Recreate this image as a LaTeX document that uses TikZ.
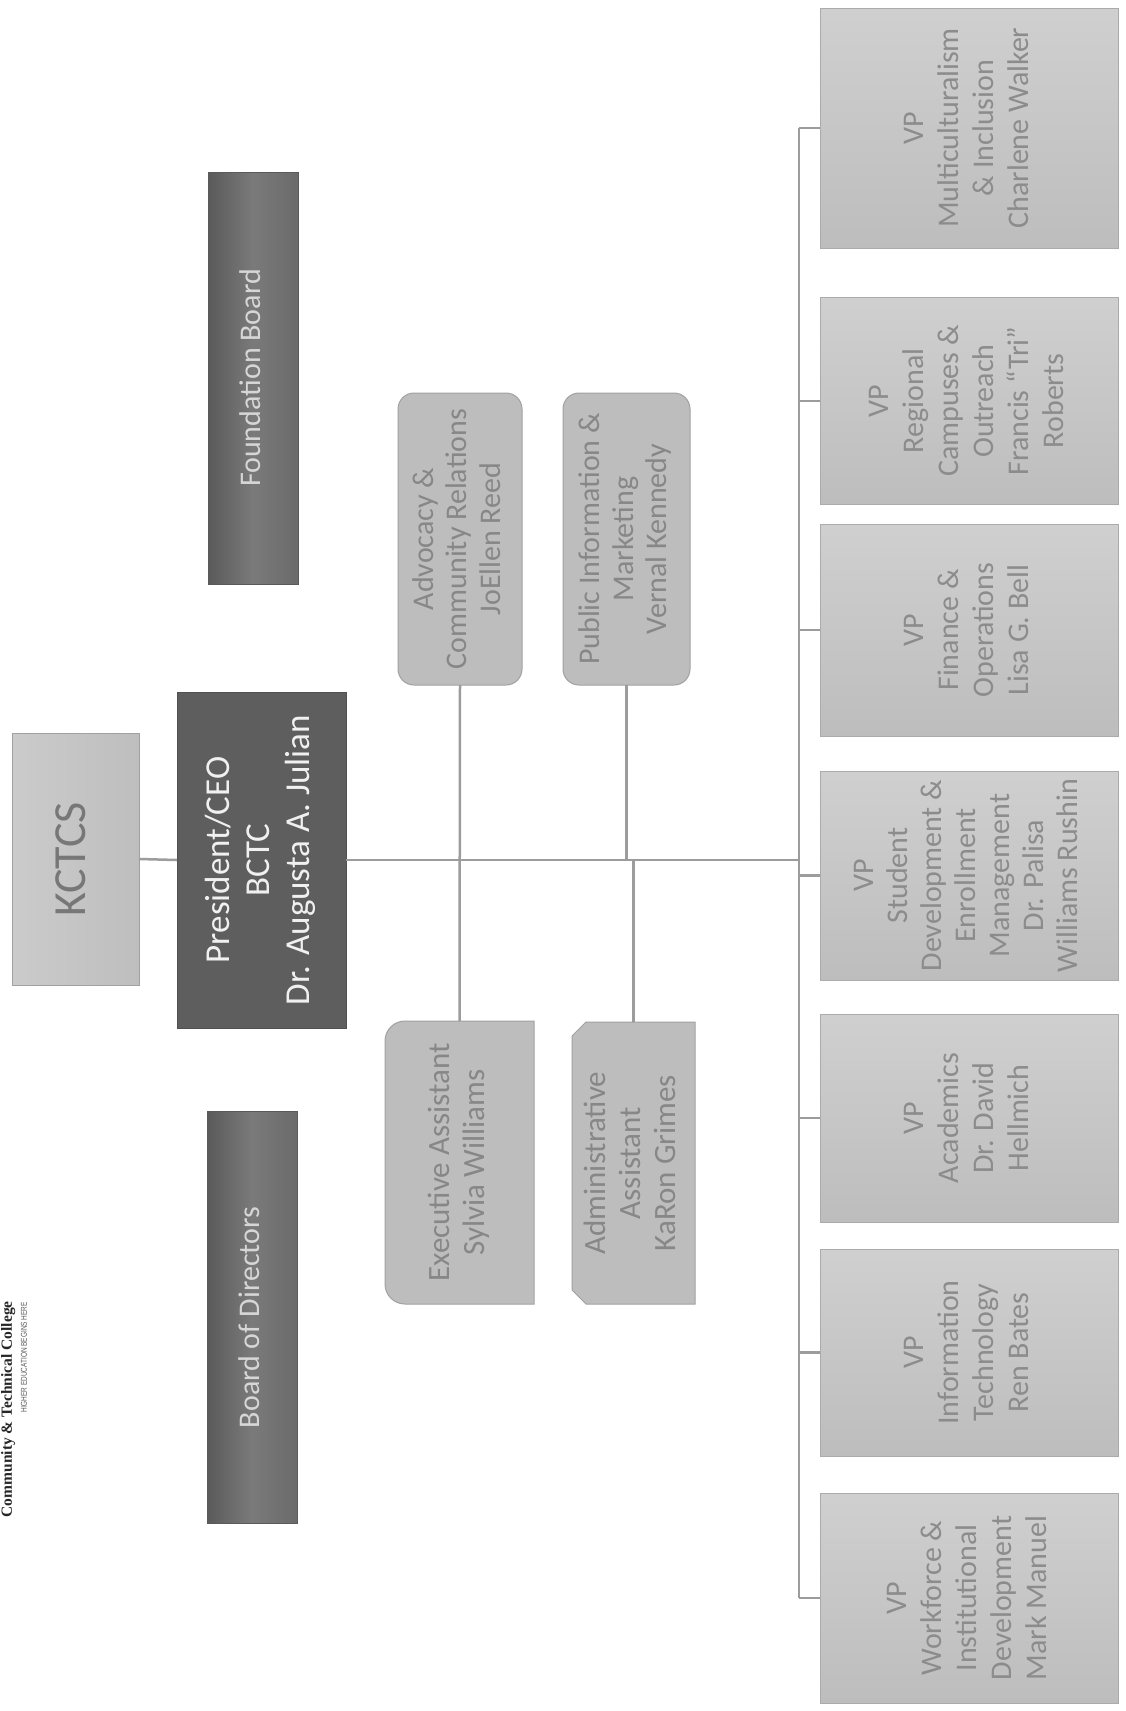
\documentclass[tikz,border=0pt]{standalone}
\usepackage{graphicx}
\usepackage{fontspec}
\setmainfont{Carlito}
\newfontfamily\logofont{Liberation Serif}
\newfontfamily\tagfont{Liberation Sans}
\usetikzlibrary{backgrounds}
\newcommand{\rtx}[1]{\rotatebox{90}{\begin{tabular}{@{}c@{}}#1\end{tabular}}}
\definecolor{vpfill}{HTML}{C7C7C7}
\definecolor{vpline}{HTML}{ABABAB}
\definecolor{vptext}{HTML}{8C8C8C}
\definecolor{midfill}{HTML}{BDBDBD}
\definecolor{midtext}{HTML}{878787}
\definecolor{presfill}{HTML}{5E5E5E}
\definecolor{darkA}{HTML}{5A5A5A}
\definecolor{darkB}{HTML}{7A7A7A}
\definecolor{darktext}{HTML}{D6D6D6}
\definecolor{kfill}{HTML}{BEBEBE}
\definecolor{ktext}{HTML}{777777}
\definecolor{conncol}{HTML}{9C9C9C}
\tikzset{
  box/.style={inner sep=0pt, outer sep=0pt},
  vpbox/.style={box, draw=vpline, line width=1pt, top color=vpfill!85!white, bottom color=vpfill!95!black,
    text=vptext, font=\fontsize{30}{35}\selectfont, minimum width=298pt},
  darkbox/.style={box, draw=darkA, line width=1pt, left color=darkA, right color=darkA!90!white, middle color=darkB,
    text=darktext, font=\fontsize{30}{36}\selectfont},
  presbox/.style={box, draw=presfill!85!black, line width=1pt, fill=presfill, text=white!94!black,
    font=\fontsize{35}{40}\selectfont},
  kbox/.style={box, draw=kfill!85!black, line width=1pt, left color=kfill!80!white, right color=kfill,
    text=ktext, font=\fontsize{46}{50}\selectfont},
  midbox/.style={box, draw=midfill!85!black, line width=1pt, fill=midfill, rounded corners=16pt,
    text=midtext, font=\fontsize{30}{33.5}\selectfont},
  midtext/.style={box, text=midtext, font=\fontsize{31}{35}\selectfont},
  conn/.style={draw=conncol, line width=2.5pt}
}
\begin{document}
\begin{tikzpicture}[x=1pt,y=1pt]
\useasboundingbox (0,0) rectangle (1126,-1711);
\begin{scope}[on background layer]
\fill[white] (0,0) rectangle (1126,-1711);
\end{scope}

% logo
\node[anchor=base east, rotate=90, inner sep=0pt, font=\logofont\bfseries\fontsize{15.5}{18}\selectfont, text=black!85] (logo) at (12,-1301) {Community \& Technical College};
\node[anchor=base east, rotate=90, inner sep=0pt, font=\tagfont\fontsize{8.5}{10}\selectfont, text=black!65] (tag) at (27,-1302) {\scalebox{0.76}[1]{HIGHER EDUCATION BEGINS HERE}};

% top level
\node[kbox, minimum width=127pt, minimum height=252pt] (kctcs) at (75.5,-859) {\rtx{KCTCS}};
\node[presbox, minimum width=169pt, minimum height=336pt] (pres) at (261.5,-860) {\rtx{President/CEO\\BCTC\\Dr. Augusta A. Julian}};
\node[darkbox, minimum width=90pt, minimum height=412pt] (found) at (253,-378) {\rtx{Foundation Board}};
\node[darkbox, minimum width=90pt, minimum height=412pt] (board) at (252,-1317.5) {\rtx{Board of Directors}};

% staff
\node[midbox, minimum width=124pt, minimum height=292pt] (adv) at (460,-539) {\rtx{Advocacy \&\\Community Relations\\JoEllen Reed}};
\node[midbox, minimum width=127pt, minimum height=292pt] (pub) at (626.5,-539) {\rtx{Public Information \&\\Marketing\\Vernal Kennedy}};
\node[midtext, minimum width=149pt, minimum height=283pt] (exec) at (459.5,-1162.5) {\rtx{Executive Assistant\\Sylvia Williams}};
\node[midtext, minimum width=123pt, minimum height=282pt] (adm) at (633.5,-1163) {\rtx{Administrative\\Assistant\\KaRon Grimes}};
\begin{scope}[on background layer]
\filldraw[fill=midfill, draw=midfill!85!black, line width=1pt]
  (exec.north east) -- ([xshift=20pt]exec.north west) arc[start angle=90, end angle=180, radius=20pt]
  -- ([yshift=20pt]exec.south west) arc[start angle=180, end angle=270, radius=20pt]
  -- (exec.south east) -- cycle;
\filldraw[fill=midfill, draw=midfill!85!black, line width=1pt]
  (adm.north east) -- ([xshift=14pt]adm.north west) -- ([yshift=-14pt]adm.north west)
  -- ([yshift=14pt]adm.south west) -- ([xshift=14pt]adm.south west) -- (adm.south east) -- cycle;
\end{scope}

% VPs
\node[vpbox, minimum height=240pt] (v1) at (969,-128) {\rtx{VP\\Multiculturalism\\\& Inclusion\\Charlene Walker}};
\node[vpbox, minimum height=207pt] (v2) at (969,-401) {\rtx{VP\\Regional\\Campuses \&\\Outreach\\Francis “Tri”\\Roberts}};
\node[vpbox, minimum height=212pt] (v3) at (969,-630) {\rtx{VP\\Finance \&\\Operations\\Lisa G. Bell}};
\node[vpbox, minimum height=209pt, font=\fontsize{30}{34}\selectfont] (v4) at (969,-875.5) {\rtx{VP\\Student\\Development \&\\Enrollment\\Management\\Dr. Palisa\\Williams Rushin}};
\node[vpbox, minimum height=208pt] (v5) at (969,-1118) {\rtx{VP\\Academics\\Dr. David\\Hellmich}};
\node[vpbox, minimum height=207pt] (v6) at (969,-1352.5) {\rtx{VP\\Information\\Technology\\Ren Bates}};
\node[vpbox, minimum height=210pt] (v7) at (969,-1598) {\rtx{VP\\Workforce \&\\Institutional\\Development\\Mark Manuel}};

% connectors
\coordinate (bus) at (799,0);
\draw[conn] (kctcs.east) -- (pres.west);
\draw[conn] (pres.east) -- (pres.east -| bus);
\draw[conn] (bus |- v1.west) -- (bus |- v7.west);
\foreach \v in {v1,v2,v3,v4,v5,v6,v7} {\draw[conn] (bus |- \v.west) -- (\v.west);}
\draw[conn] (adv.south) -- (exec.north);
\draw[conn] (pub.south) -- (pub.south |- pres.east);
\draw[conn] (adm.north) -- (adm.north |- pres.east);
\end{tikzpicture}
\end{document}
